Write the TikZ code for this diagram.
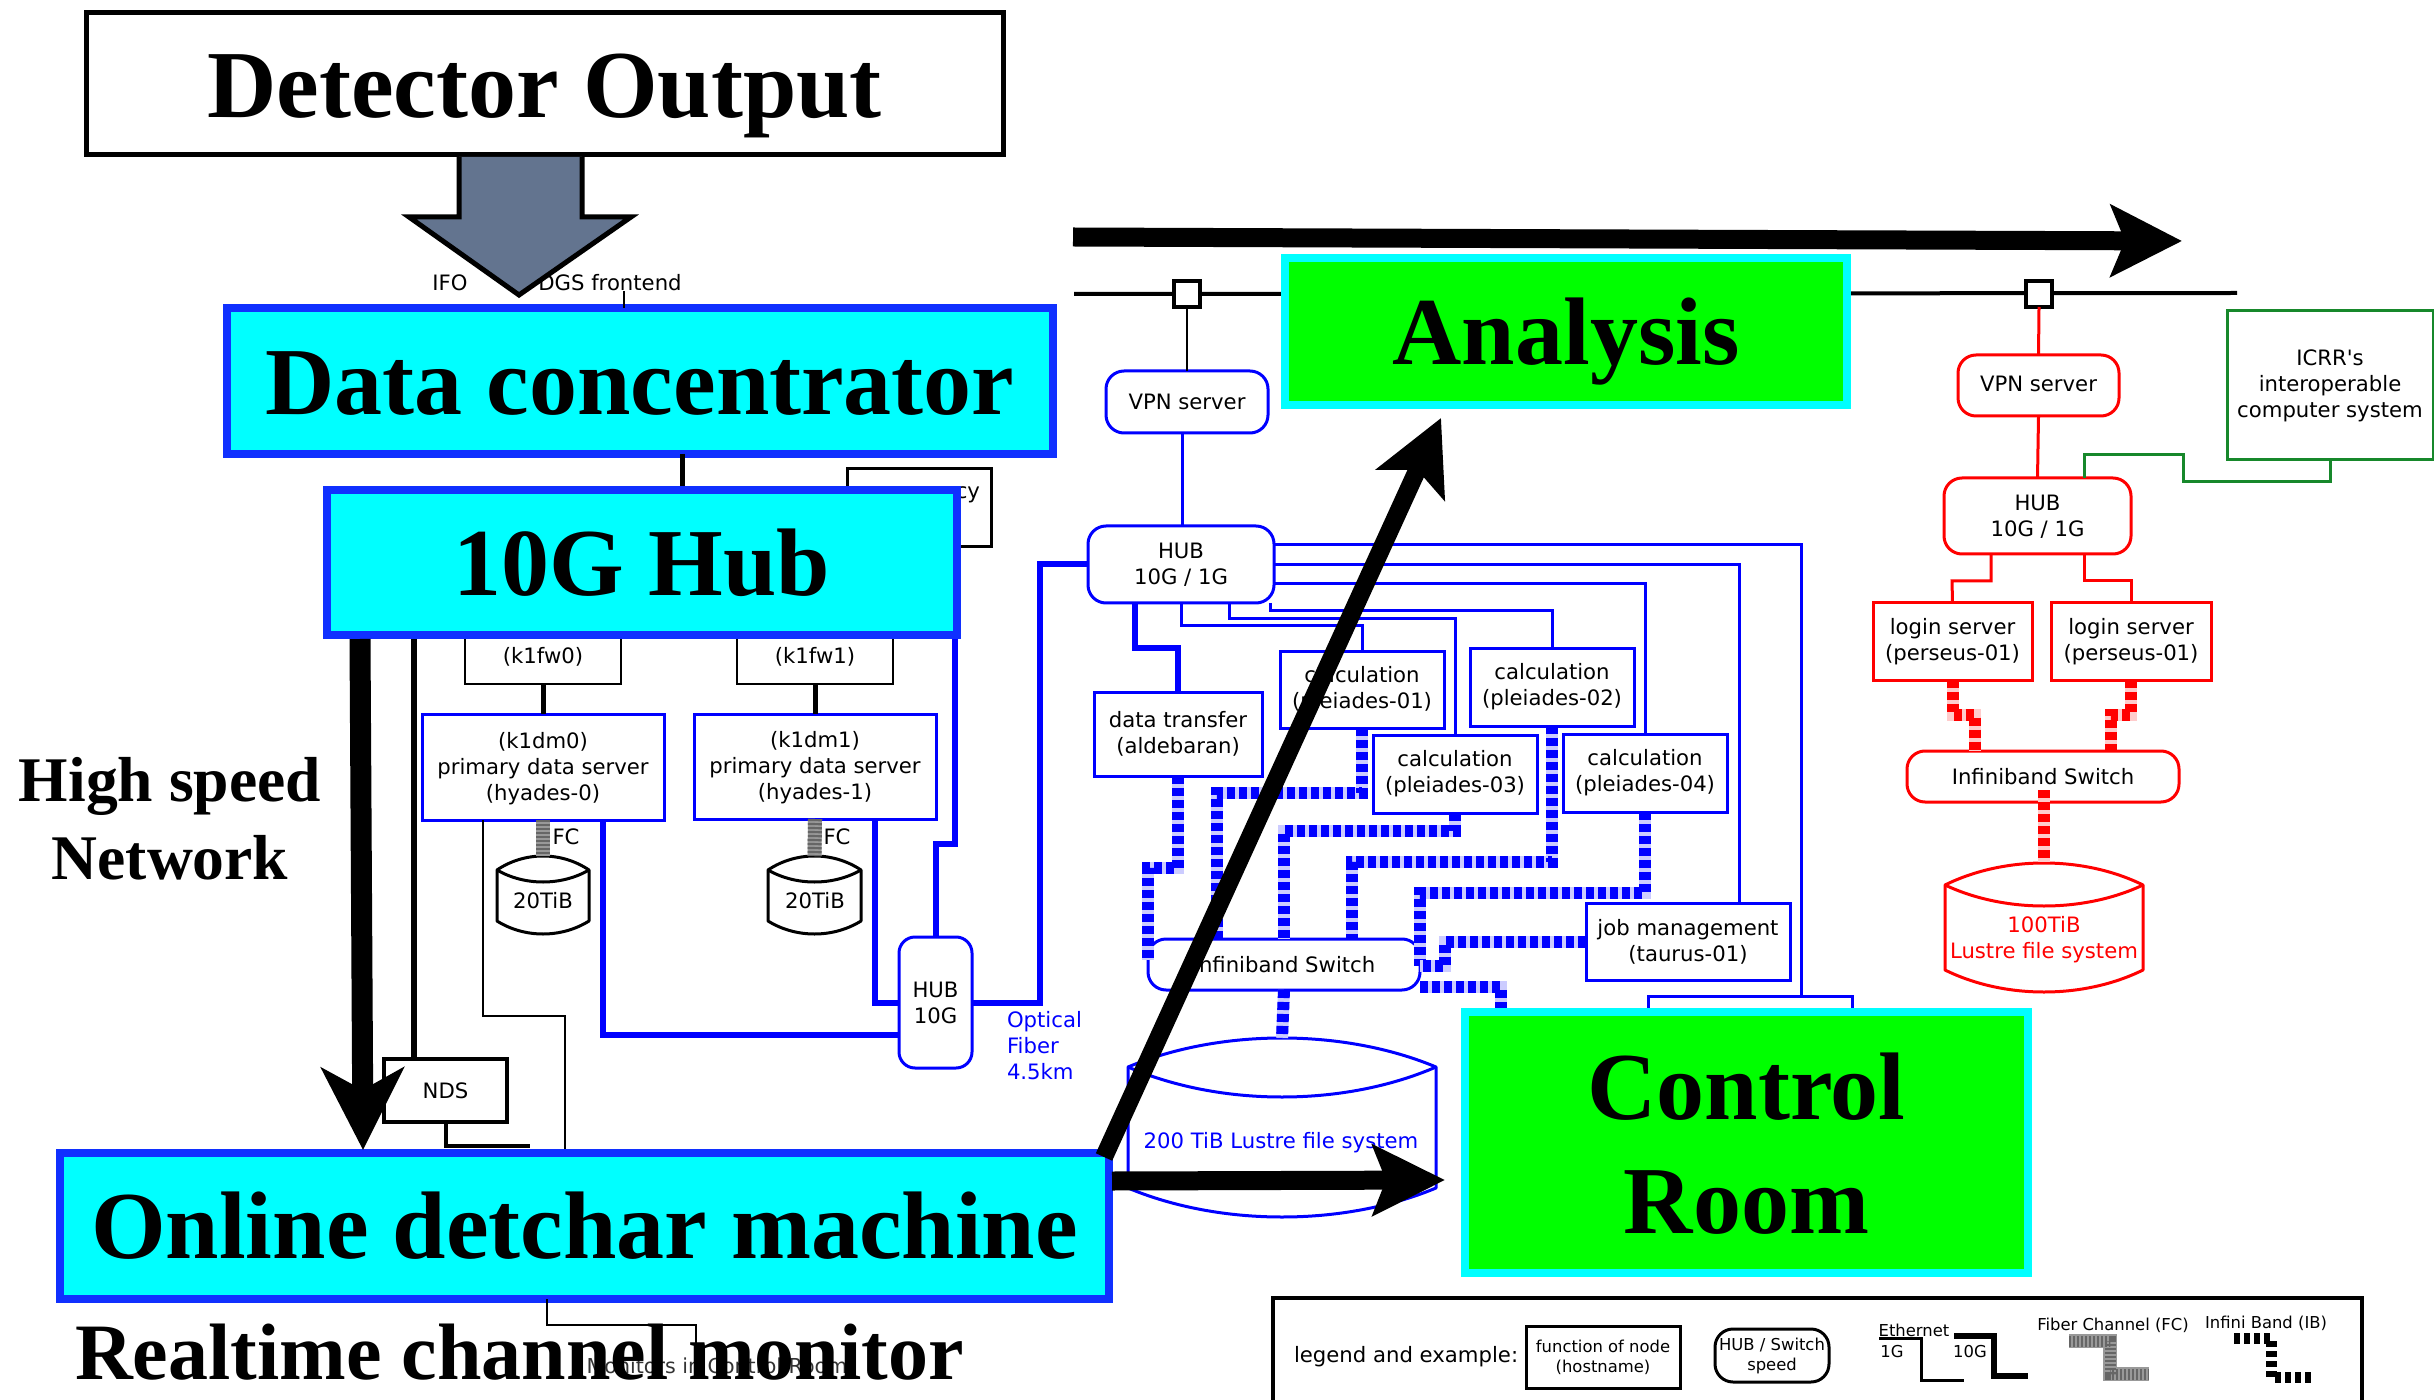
\documentclass[tikz,border=0pt]{standalone}
\usepackage{fontspec}
\newfontfamily\dvplain{DejaVu Sans}
\newfontfamily\tmsfont{Liberation Serif}
\usetikzlibrary{arrows.meta}
\definecolor{hbblue}{RGB}{16,48,255}
\definecolor{slatearrow}{RGB}{99,116,143}
\definecolor{icrrgreen}{RGB}{23,136,43}
\definecolor{purecyan}{RGB}{0,255,255}
\definecolor{puregreen}{RGB}{0,255,0}
\definecolor{pureblue}{RGB}{0,0,255}
\definecolor{purered}{RGB}{255,0,0}
\newcommand{\dvfont}{\dvplain\fontsize{10.6pt}{13pt}\selectfont}
\newcommand{\lgfont}{\dvplain\fontsize{8.2pt}{10pt}\selectfont}
\newcommand{\ttlfont}{\tmsfont\bfseries\fontsize{48pt}{57.5pt}\selectfont}
\newcommand{\pxbox}[7]{%
  \pgfmathsetmacro\bxw{(#5-#3)*0.5}\pgfmathsetmacro\bxh{(#6-#4)*0.5}%
  \node[#2,minimum width=\bxw pt,minimum height=\bxh pt] (#1) at ({(#3+#5)/2},{(#4+#6)/2}) {#7};}
% name, colour, left, right, ytop, yside, ylow, ybotside, ybot
\newcommand{\pxdrum}[9]{%
  \pgfmathsetmacro\dcx{(#3+#4)/2}\pgfmathsetmacro\dw{#4-#3}%
  \pgfmathsetmacro\dca{#6-(#6-#5)*4/3}\pgfmathsetmacro\dcb{#6+(#7-#6)*4/3}\pgfmathsetmacro\dcc{#8+(#9-#8)*4/3}%
  \coordinate (#1top) at (\dcx,#5);
  \draw[#2,fill=white,line width=1.5pt,line join=round] (#3,#6) .. controls ({#3+.3*\dw},\dca) and ({#4-.3*\dw},\dca) .. (#4,#6)
     -- (#4,#8) .. controls ({#4-.3*\dw},\dcc) and ({#3+.3*\dw},\dcc) .. (#3,#8) -- cycle;
  \draw[#2,line width=1.5pt] (#3,#6) .. controls ({#3+.3*\dw},\dcb) and ({#4-.3*\dw},\dcb) .. (#4,#6);}
\tikzset{
  x=0.5pt,y=-0.5pt,
  pbox/.style={draw,rectangle,inner sep=0pt,outer sep=0pt,align=center,fill=white,text=black,font=\dvfont,line width=1.5pt},
  rbox/.style={pbox,rounded corners=9pt},
  ttlbox/.style={draw,rectangle,inner sep=0pt,outer sep=0pt,font=\ttlfont,text=black,line width=4pt},
  cybox/.style={ttlbox,draw=hbblue,fill=purecyan},
  grbox/.style={ttlbox,draw=purecyan,fill=puregreen},
  lbl/.style={inner sep=0pt,outer sep=0pt,font=\dvfont,align=center},
  lgl/.style={inner sep=0pt,outer sep=0pt,font=\lgfont,align=center},
  ttl/.style={inner sep=0pt,outer sep=0pt,font=\ttlfont,text=black},
  thinb/.style={pureblue,line width=1.5pt},
  thickb/.style={pureblue,line width=3pt},
  blk/.style={black,line width=1.2pt},
  blkm/.style={black,line width=2.5pt},
  red1/.style={purered,line width=1.5pt},
  ibblue/.style={pureblue,line width=6pt,dash pattern=on 4pt off 2pt,preaction={draw,pureblue!20,line width=6pt,solid}},
  ibred/.style={purered,line width=6pt,dash pattern=on 4pt off 2pt,preaction={draw,purered!20,line width=6pt,solid}},
  fcline/.style={black!60,line width=7pt,dash pattern=on 1.1pt off .9pt,preaction={draw,black!40,line width=7pt,solid}},
  bigarrow/.style={black,line width=9.5pt},
}
\begin{document}
\begin{tikzpicture}
\useasboundingbox (0,0) rectangle (2434,1400);
% ---------- left column, behind the title boxes
\pxbox{extra}{pbox,draw=black}{847}{469}{991}{547}{}
\node[lbl,anchor=east] (extracy) at (980,495) {cy};
\pxbox{fw0}{pbox,draw=black,line width=1.2pt}{465}{630}{621}{684}{(k1fw0)}
\pxbox{fw1}{pbox,draw=black,line width=1.2pt}{737}{630}{893}{684}{(k1fw1)}
\pxbox{dm0}{pbox,draw=pureblue}{422}{714}{664}{820}{\rule{0pt}{9.5pt}(k1dm0)\\primary data server\\(hyades-0)}
\pxbox{dm1}{pbox,draw=pureblue}{694}{714}{936}{819}{\rule{0pt}{9.5pt}(k1dm1)\\primary data server\\(hyades-1)}
\draw[blkm] (fw0.south) -- (dm0.north);
\draw[blkm] (fw1.south) -- (dm1.north);
\pxdrum{dra}{black}{497}{589}{856}{870}{882}{921}{934}
\pxdrum{drb}{black}{768}{861}{856}{870}{882}{921}{934}
\node[lbl] (draT) at (543,901) {20TiB};
\node[lbl] (drbT) at (815,901) {20TiB};
\draw[fcline] (dm0.south) -- (dratop);
\draw[fcline] (dm1.south) -- (drbtop);
\node[lbl] (fcA) at (566,837) {FC};
\node[lbl] (fcB) at (837,837) {FC};
\pxbox{hub10}{rbox,draw=pureblue,rounded corners=8pt}{899}{937}{972}{1068}{HUB\\10G}
\pxbox{nds}{pbox,draw=black,line width=2pt}{384}{1059}{507}{1122}{NDS}
\node[lbl,text=pureblue,align=left,anchor=north west] (optic) at (1007,1011) {Optical\\Fiber\\4.5km};
% ---------- middle column
\pxbox{vpnL}{rbox,draw=pureblue}{1106}{371}{1268}{433}{VPN server}
\pxbox{hubL}{rbox,draw=pureblue}{1088}{526}{1274}{603}{HUB\\10G / 1G}
\pxbox{dt}{pbox,draw=pureblue}{1094}{692}{1262}{776}{data transfer\\(aldebaran)}
\pxbox{plA}{pbox,draw=pureblue}{1280}{651}{1444}{728}{calculation\\(pleiades-01)}
\pxbox{plB}{pbox,draw=pureblue}{1470}{648}{1634}{726}{calculation\\(pleiades-02)}
\pxbox{plC}{pbox,draw=pureblue}{1373}{735}{1537}{813}{calculation\\(pleiades-03)}
\pxbox{plD}{pbox,draw=pureblue}{1563}{734}{1727}{812}{calculation\\(pleiades-04)}
\pxbox{job}{pbox,draw=pureblue}{1586}{903}{1790}{980}{job management\\(taurus-01)}
\pxbox{swL}{rbox,draw=pureblue}{1148}{939}{1420}{990}{Infiniband Switch}
\pxdrum{lusL}{pureblue}{1128}{1436}{1038}{1067}{1097}{1188}{1217}
\node[lbl,text=pureblue] (lusLT) at (1281,1143) {200 TiB Lustre file system};
% thin and thick ethernet in the middle column
\draw[thinb] (hubL.east |- 0,545) -| (1801,996) -- (1648,996) -- (1648,1012);
\draw[thinb] (1801,996) -- (1852,996) -- (1852,1012);
\draw[thinb] (hubL.east |- 0,565) -| (job.north -| 1739,0);
\draw[thinb] (hubL.east |- 0,584) -| (plD.north);
\draw[thinb] (hubL.south -| 1270,0) |- (1552,611) -- (plB.north);
\draw[thinb] (hubL.south -| 1229,0) |- (1455,619) -- (plC.north);
\draw[thinb] (hubL.south) |- (1362,626) -- (plA.north);
\draw[thickb] (hubL.south -| 1135,0) |- (1178,648) -- (dt.north);
\draw[thinb] (vpnL.south -| 1182,0) -- (hubL.north -| 1182,0);
% infiniband in the middle column
\draw[ibblue] (dt.south) |- (1148,868) -- (1148,960);
\draw[ibblue] (plA.south) |- (1217,793) -- (swL.north -| 1217,0);
\draw[ibblue] (plC.south) |- (1284,831) -- (swL.north -| 1284,0);
\draw[ibblue] (plB.south) |- (1352,862) -- (swL.north -| 1352,0);
\draw[ibblue] (plD.south) |- (1420,893) -- (swL.east |- 0,966);
\draw[ibblue] (job.west) -| (1445,966) -- (swL.east |- 0,966);
\draw[ibblue] (swL.east |- 0,987) -| (1501,1012);
\draw[ibblue] (swL.south -| 1284,0) -- (lusLtop);
% ---------- left column ethernet
\draw[thickb] (hubL.west) -| (1040,1003) -- (hub10.east |- 0,1003);
\draw[thickb] (dm0.south -| 603,0) |- (hub10.west |- 0,1035);
\draw[thickb] (dm1.south -| 875,0) |- (hub10.west |- 0,1003);
\draw[thickb] (955,630) -- (955,844) -- (936,844) -- (hub10.north -| 936,0);
\draw[blk] (dm0.south -| 483,0) |- (565,1016) -- (565,1153);
\draw[black,line width=3pt] (414,630) -- (nds.north -| 414,0);
\draw[black,line width=2pt] (nds.south) |- (530,1146);
% ---------- top row
\node[lbl] (ifo) at (450,283) {IFO};
\node[lbl] (dgs) at (610,283) {DGS frontend};
\pxbox{det}{ttlbox,fill=white,line width=2.5pt,text height=34pt,text depth=0pt}{86}{13}{1003}{155}{Detector Output}
\pxbox{dc}{cybox,text height=34pt,text depth=0pt}{227}{308}{1053}{454}{Data concentrator}
\draw[blk] (dgs.south -| 624,0) -- (dc.north -| 624,0);
\draw[fill=slatearrow,draw=black,line width=2.5pt,line join=miter]
  (459,157) -- (459,217) -- (409,217) -- (519,295) -- (631,217) -- (582,217) -- (582,157);
\draw[blkm] (dc.south -| 682,0) -- (682,492);
\pxbox{hub}{cybox,text height=33.5pt,text depth=0pt}{327}{490}{957}{635}{10G Hub}
% ---------- online box and bottom
\node[lbl,text=black!80,font=\dvplain\fontsize{10.3pt}{13pt}\selectfont] (montxt) at (717,1366) {Monitors in Control Room};
\pxbox{od}{cybox,text height=32pt,text depth=0pt}{60}{1153}{1109}{1299}{Online detchar machine}
\draw[black,line width=1.2pt] (od.south -| 547,0) -- (547,1325) -| (696,1350);
\node[ttl,anchor=base west,font=\tmsfont\bfseries\fontsize{40pt}{48pt}\selectfont] (rt) at (75,1379) {Realtime channel monitor};
\node[ttl,anchor=base,font=\tmsfont\bfseries\fontsize{31.8pt}{40pt}\selectfont] (hs) at (170,801) {High speed};
\node[ttl,anchor=base,font=\tmsfont\bfseries\fontsize{31.8pt}{40pt}\selectfont] (nw) at (170,879) {Network};
% ---------- analysis, control room
\coordinate (busL) at (1074,294);
\coordinate (busR) at (2237,293);
\draw[black,line width=2pt] (busL) -- (busR);
\pxbox{an}{grbox,text height=33.5pt,text depth=0pt}{1285}{258}{1847}{405}{Analysis}
\pxbox{cr}{grbox,align=center}{1465}{1012}{2028}{1273}{\rule{0pt}{34pt}Control\\[-0.5pt]Room}
\pxbox{sqL}{pbox,draw=black,line width=2pt}{1174}{281}{1200}{307}{}
\pxbox{sqR}{pbox,draw=black,line width=2pt}{2026}{281}{2052}{307}{}
\draw[blk] (sqL.south) -- (vpnL.north);
% ---------- right column
\pxbox{vpnR}{rbox,draw=purered}{1958}{355}{2119}{416}{\rule[-1.5pt]{0pt}{1pt}VPN server}
\pxbox{hubR}{rbox,draw=purered}{1944}{478}{2131}{554}{\rule{0pt}{8.6pt}HUB\\10G / 1G}
\pxbox{logA}{pbox,draw=purered}{1873}{603}{2032}{680}{login server\\(perseus-01)}
\pxbox{logB}{pbox,draw=purered}{2051}{603}{2211}{680}{login server\\(perseus-01)}
\pxbox{swR}{rbox,draw=purered}{1907}{751}{2179}{802}{Infiniband Switch}
\pxbox{icrr}{pbox,draw=icrrgreen}{2227}{311}{2433}{460}{ICRR's\\interoperable\\computer system}
\pxdrum{lusR}{purered}{1945}{2143}{863}{885}{906}{970}{992}
\node[lbl,text=purered] (lusRT) at (2044,940) {100TiB\\Lustre file system};
\draw[red1] (sqR.south) -- (vpnR.north);
\draw[red1] (vpnR.south) -- (hubR.north);
\draw[red1] (hubR.south -| 1991,0) |- (1952,581) -- (logA.north);
\draw[red1] (hubR.south -| 2084,0) |- (2131,581) -- (logB.north);
\draw[icrrgreen,line width=1.5pt] (hubR.north -| 2084,0) |- (2183,455) |- (2330,482) -- (icrr.south);
\draw[ibred] (logA.south) |- (1975,715) -- (swR.north -| 1975,0);
\draw[ibred] (logB.south) |- (2111,715) -- (swR.north -| 2111,0);
\draw[ibred] (2044,790) -- (lusRtop);
% ---------- large arrows
\coordinate (arA) at (360,639);
\coordinate (arAe) at (363,1150);
\draw[bigarrow,line width=10.5pt,-{Stealth[length=41pt,width=41pt,inset=11pt]}] (arA) -- (arAe);
\coordinate (arB) at (1073,237);
\coordinate (arBe) at (2182,241);
\draw[bigarrow,-{Stealth[length=35.5pt,width=35.5pt,inset=7pt]}] (arB) -- (arBe);
\coordinate (arC) at (1104,1157);
\coordinate (arCe) at (1441,418);
\draw[bigarrow,line width=9pt,-{Stealth[length=36.5pt,width=37pt,inset=8pt]}] (arC) -- (arCe);
\coordinate (arD) at (1112,1181);
\coordinate (arDe) at (1445,1180);
\draw[bigarrow,-{Stealth[length=36pt,width=35pt,inset=6.5pt]}] (arD) -- (arDe);
% ---------- legend
\pxbox{leg}{pbox,draw=black,line width=2pt,fill=none}{1273}{1298}{2362}{1420}{}
\node[lbl,anchor=west] (legT) at (1294,1357) {legend and example:};
\pxbox{legA}{pbox,draw=black,font=\lgfont,line width=1.5pt}{1526}{1326}{1680}{1388}{function of node\\(hostname)}
\pxbox{legB}{rbox,draw=black,font=\lgfont}{1715}{1329}{1829}{1382}{HUB / Switch\\speed}
\node[lgl] (legE) at (1914,1330) {Ethernet};
\node[lgl] (leg1) at (1892,1352) {1G};
\node[lgl] (leg10) at (1970,1352) {10G};
\node[lgl] (legF) at (2113,1325) {Fiber Channel (FC)};
\node[lgl] (legI) at (2266,1323) {Infini Band (IB)};
\coordinate (e1a) at (1879,1338); \coordinate (e1b) at (1964,1380);
\coordinate (e2a) at (1954,1336); \coordinate (e2b) at (2028,1376);
\coordinate (e3a) at (2069,1341); \coordinate (e3b) at (2149,1374);
\coordinate (e4a) at (2234,1338); \coordinate (e4b) at (2311,1377);
\draw[black,line width=1.5pt] (e1a) -- (1921,1338) |- (e1b);
\draw[black,line width=3pt] (e2a) -- (1994,1336) |- (e2b);
\draw[fcline,line width=5.5pt,preaction={draw,black!40,line width=5.5pt,solid}] (e3a) -- (2110,1341) |- (e3b);
\draw[black,line width=5.5pt,dash pattern=on 3pt off 2pt] (e4a) -- (2271,1338) |- (e4b);
\end{tikzpicture}
\end{document}
